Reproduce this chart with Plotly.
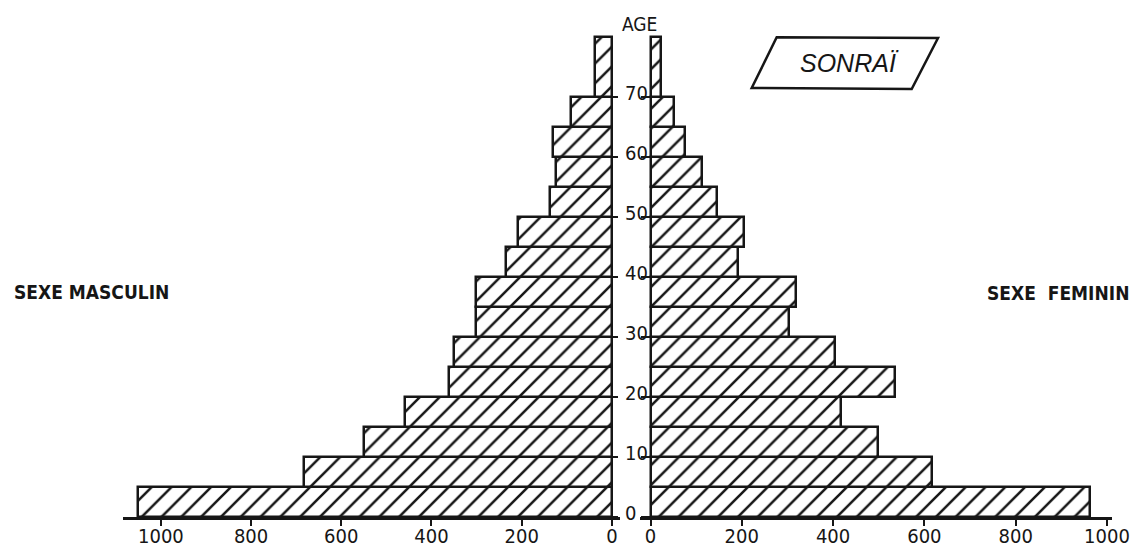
import plotly.graph_objects as go

# ---- data ----
age_lo = [0, 5, 10, 15, 20, 25, 30, 35, 40, 45, 50, 55, 60, 65, 70]
age_hi = [5, 10, 15, 20, 25, 30, 35, 40, 45, 50, 55, 60, 65, 70, 80]
male = [1050, 683, 550, 459, 361, 350, 302, 301, 235, 208, 137, 125, 131, 90, 38]
female = [963, 617, 499, 418, 535, 404, 303, 318, 191, 205, 145, 112, 75, 51, 23]
x_ticks = [0, 200, 400, 600, 800, 1000]
age_ticks = [0, 10, 20, 30, 40, 50, 60, 70]
label_age = "AGE"
label_male = "SEXE MASCULIN"
label_female = "SEXE\u00a0\u00a0FEMININ"
label_group = "SONRAÏ"

# ---- layout helpers ----
W, H = 1143, 553
MT, MB = 1, 36
PH = H - MT - MB


def px(x):
    return x / W


def py(y):
    return (H - MB - y) / PH


INK = "#161616"
centers = [(a + b) / 2 for a, b in zip(age_lo, age_hi)]
widths = [b - a for a, b in zip(age_lo, age_hi)]

bar_style = dict(
    color="white",
    pattern=dict(shape="/", fgcolor=INK, bgcolor="white", size=14,
                 solidity=0.18, fgopacity=1),
    line=dict(color=INK, width=2.5),
)

fig = go.Figure()
fig.add_trace(go.Bar(x=male, y=centers, width=widths, orientation="h",
                     marker=bar_style, xaxis="x", yaxis="y",
                     hoverinfo="skip", showlegend=False))
fig.add_trace(go.Bar(x=female, y=centers, width=widths, orientation="h",
                     marker=bar_style, xaxis="x2", yaxis="y2",
                     hoverinfo="skip", showlegend=False))

tickfont = dict(family="DejaVu Sans Condensed", size=20, color=INK)
xcommon = dict(showline=True, linewidth=2.5, linecolor=INK, ticks="outside",
               ticklen=6, tickwidth=2, tickcolor=INK, tickvals=x_ticks,
               ticklabelstandoff=-7,
               showgrid=False, zeroline=False, tickfont=tickfont, fixedrange=True)

fig.update_layout(
    width=W, height=H,
    margin=dict(l=0, r=0, t=MT, b=MB, autoexpand=False),
    paper_bgcolor="white", plot_bgcolor="white",
    bargap=0,
    xaxis=dict(domain=[px(123), px(620)], range=[1084, -18], anchor="y", **xcommon),
    xaxis2=dict(domain=[px(640), px(1112)], range=[-23, 1011], anchor="y2", **xcommon),
    yaxis=dict(range=[0, 86], anchor="free", position=px(612), side="right",
               ticks="outside", ticklen=5, tickwidth=2, tickcolor=INK,
               tickvals=age_ticks, showgrid=False, zeroline=False, showline=False,
               tickfont=tickfont, ticklabelstandoff=3, ticklabelshift=-4,
               fixedrange=True),
    yaxis2=dict(range=[0, 86], matches="y", anchor="free", position=px(650.5),
                side="left", ticks="outside", ticklen=10, tickwidth=2,
                tickcolor=INK, tickvals=age_ticks, showticklabels=False,
                showgrid=False, zeroline=False, showline=False, fixedrange=True),
    showlegend=False,
)

ann = dict(xref="paper", yref="paper", showarrow=False, yanchor="middle")
fig.add_annotation(text=label_age, x=px(639), y=py(24), xanchor="center",
                   font=dict(family="DejaVu Sans Condensed", size=19, color=INK), **ann)
fig.add_annotation(text=label_male, x=px(12), y=py(292), xanchor="left",
                   font=dict(family="DejaVu Sans Condensed", size=19, color=INK,
                             weight="bold"), **ann)
fig.add_annotation(text=label_female, x=px(1131), y=py(293), xanchor="right",
                   font=dict(family="DejaVu Sans Condensed", size=19, color=INK,
                             weight="bold"), **ann)
fig.add_annotation(text=label_group, x=px(849), y=py(63), xanchor="center",
                   font=dict(family="Liberation Sans", size=25, color=INK,
                             style="italic"), **ann)

pts = [(776.7, 37.3), (938, 38), (911.7, 89), (751.7, 88)]
path = "M " + " L ".join(f"{px(a):.5f},{py(b):.5f}" for a, b in pts) + " Z"
fig.add_shape(type="path", path=path, xref="paper", yref="paper",
              line=dict(color=INK, width=2.5), fillcolor="rgba(0,0,0,0)")

fig.write_html("out.html", config={"displayModeBar": False},
               post_script="document.body.style.margin='0';")
